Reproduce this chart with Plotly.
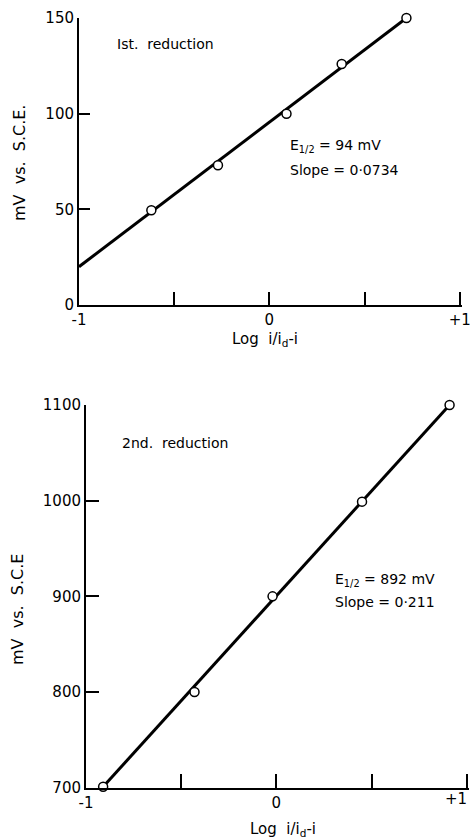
import plotly.graph_objects as go

# ---- data: 1st reduction ----
x1_pts = [-0.62, -0.27, 0.09, 0.38, 0.72]
y1_pts = [49.5, 73, 100, 126, 150]
x1_fit = [-1.0, 0.72]
y1_fit = [20, 150]

# ---- data: 2nd reduction ----
x2_pts = [-0.91, -0.43, -0.02, 0.45, 0.91]
y2_pts = [701, 800, 900, 999, 1100]
x2_fit = [-0.91, 0.91]
y2_fit = [701, 1100]

x_tickvals = [-1, -0.5, 0, 0.5, 1]
x1_ticktext = ["-1", "", "0", "", "+1"]
x2_ticktext = ["-1", "", "0", "", ""]   # "+1" placed as edge-aligned label below
y1_ticks = [0, 50, 100, 150]
y2_ticks = [700, 800, 900, 1000, 1100]

FONT = "DejaVu Sans"
fig = go.Figure()

line_style = dict(color="black", width=3)
marker_style = dict(symbol="circle", size=9, color="white",
                    line=dict(color="black", width=1.5))

fig.add_trace(go.Scatter(x=x1_fit, y=y1_fit, mode="lines", line=line_style,
                         xaxis="x", yaxis="y", cliponaxis=False, showlegend=False))
fig.add_trace(go.Scatter(x=x1_pts, y=y1_pts, mode="markers", marker=marker_style,
                         xaxis="x", yaxis="y", cliponaxis=False, showlegend=False))
fig.add_trace(go.Scatter(x=x2_fit, y=y2_fit, mode="lines", line=line_style,
                         xaxis="x2", yaxis="y2", cliponaxis=False, showlegend=False))
fig.add_trace(go.Scatter(x=x2_pts, y=y2_pts, mode="markers", marker=marker_style,
                         xaxis="x2", yaxis="y2", cliponaxis=False, showlegend=False))

axis_common = dict(showline=True, linecolor="black", linewidth=2, ticks="inside",
                   tickwidth=2, tickcolor="black", showgrid=False, zeroline=False,
                   automargin=False, ticklabeloverflow="allow",
                   tickfont=dict(family=FONT, size=15, color="black"))

fig.update_layout(
    width=470, height=840,
    margin=dict(l=0, r=0, t=0, b=0),
    paper_bgcolor="white", plot_bgcolor="white",
    font=dict(family=FONT, color="black"),
    xaxis=dict(axis_common, domain=[79/470, 462/470], range=[-1, 1.012], anchor="y",
               tickvals=x_tickvals, ticktext=x1_ticktext, ticklen=13),
    yaxis=dict(axis_common, domain=[1-305/840, 1-18/840], range=[0, 150], anchor="x",
               tickvals=y1_ticks, ticklen=11),
    xaxis2=dict(axis_common, domain=[86/470, 469/470], range=[-1, 1.012], anchor="y2",
                tickvals=x_tickvals, ticktext=x2_ticktext, ticklen=14),
    yaxis2=dict(axis_common, domain=[1-787.7/840, 1-405/840], range=[700, 1100], anchor="x2",
                tickvals=y2_ticks, ticklen=13),
)

title_font = dict(family=FONT, size=15, color="black")
ann_font = dict(family=FONT, size=14, color="black")
anns = [
    # axis titles
    dict(text="mV  vs.  S.C.E.", x=20/470, y=1-163/840, xref="paper", yref="paper",
         xanchor="center", yanchor="middle",
         textangle=-90, showarrow=False, font=dict(family=FONT, size=16, color="black")),
    dict(text="Log  i/i<sub>d</sub>-i", x=265/470, y=1-339/840, xref="paper", yref="paper",
         xanchor="center", yanchor="middle", showarrow=False, font=title_font),
    dict(text="mV  vs.  S.C.E", x=17/470, y=1-610/840, xref="paper", yref="paper",
         xanchor="center", yanchor="middle",
         textangle=-90, showarrow=False, font=dict(family=FONT, size=16, color="black")),
    dict(text="Log  i/i<sub>d</sub>-i", x=283/470, y=1-829/840, xref="paper", yref="paper",
         xanchor="center", yanchor="middle", showarrow=False, font=title_font),
    # "+1" tick label of the lower axis, kept inside the page edge
    dict(text="+1", x=469/470, y=1-799/840, xref="paper", yref="paper",
         xanchor="right", yanchor="middle", showarrow=False,
         font=dict(family=FONT, size=15, color="black")),
    # in-plot labels
    dict(text="Ist.  reduction", x=-0.811, y=136.4, xref="x", yref="y", xanchor="left",
         showarrow=False, font=ann_font),
    dict(text="E<sub>1/2</sub> = 94 mV", x=0.097, y=83.1, xref="x", yref="y", xanchor="left",
         showarrow=False, font=ann_font),
    dict(text="Slope = 0·0734", x=0.097, y=70.6, xref="x", yref="y", xanchor="left",
         showarrow=False, font=ann_font),
    dict(text="2nd.  reduction", x=-0.82, y=1060, xref="x2", yref="y2", xanchor="left",
         showarrow=False, font=ann_font),
    dict(text="E<sub>1/2</sub> = 892 mV", x=0.297, y=917, xref="x2", yref="y2", xanchor="left",
         showarrow=False, font=ann_font),
    dict(text="Slope = 0·211", x=0.297, y=894, xref="x2", yref="y2", xanchor="left",
         showarrow=False, font=ann_font),
]
fig.update_layout(annotations=anns)

fig.write_html("out.html")
